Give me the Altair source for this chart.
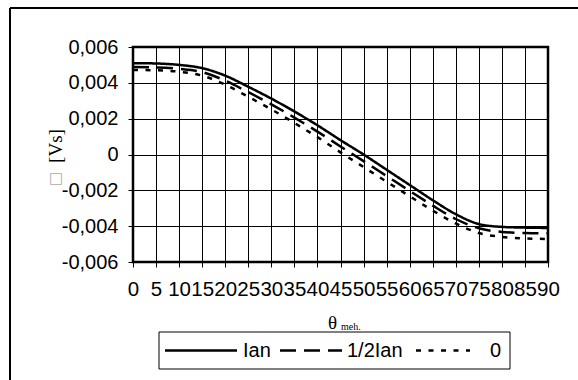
import altair as alt
import pandas as pd

theta = [0, 5, 10, 15, 20, 25, 30, 35, 40, 45, 50, 55, 60, 65, 70, 75, 80, 85, 90]
ian = [0.00510, 0.00508, 0.00500, 0.00482, 0.00440, 0.00378, 0.00312, 0.00240, 0.00163, 0.00080,
       0.00000, -0.00085, -0.00170, -0.00255, -0.00333, -0.00388, -0.00404, -0.00408, -0.00410]
half_ian = [0.00488, 0.00486, 0.00478, 0.00460, 0.00412, 0.00348, 0.00280, 0.00206, 0.00128, 0.00045,
            -0.00037, -0.00120, -0.00203, -0.00285, -0.00360, -0.00412, -0.00432, -0.00438, -0.00440]
zero = [0.00472, 0.00470, 0.00462, 0.00440, 0.00390, 0.00322, 0.00252, 0.00176, 0.00097, 0.00012,
        -0.00070, -0.00152, -0.00233, -0.00313, -0.00385, -0.00438, -0.00460, -0.00468, -0.00472]
series_names = ["Ian", "1/2Ian", "0"]
y_ticks = [-0.006, -0.004, -0.002, 0, 0.002, 0.004, 0.006]

rows = []
for name, vals in zip(series_names, [ian, half_ian, zero]):
    for t, v in zip(theta, vals):
        rows.append({"theta": t, "flux": v, "series": name})
df = pd.DataFrame(rows)

FONT = "Liberation Sans"
SERIF = "Liberation Serif"
W, H = 415, 215
DASHES = [[1, 0], [16, 8], [5, 7.5]]

lines = alt.Chart(df).mark_line(interpolate="monotone", strokeWidth=2.5, color="black").encode(
    x=alt.X("theta:Q",
            scale=alt.Scale(domain=[0, 90], nice=False, zero=False),
            axis=alt.Axis(values=theta, title=None, grid=True, gridColor="black", gridWidth=1,
                          gridOpacity=1, labelOverlap=False, labelFlush=False, tickSize=5,
                          tickColor="black", domain=False, labelFont=FONT, labelFontSize=20.5,
                          labelColor="black", labelPadding=12)),
    y=alt.Y("flux:Q",
            scale=alt.Scale(domain=[-0.006, 0.006], nice=False),
            axis=alt.Axis(values=y_ticks, title=None, grid=True, gridColor="black", gridWidth=1,
                          gridOpacity=1, tickSize=5, tickColor="black", domain=False,
                          labelFont=FONT, labelFontSize=20, labelColor="black", labelPadding=10,
                          labelExpr="datum.value == 0 ? '0' : (datum.value < 0 ? '-' : '') + replace(format(abs(datum.value), '.3f'), '.', ',')")),
    strokeDash=alt.StrokeDash("series:N",
                              scale=alt.Scale(domain=series_names, range=DASHES),
                              legend=None),
)

one = pd.DataFrame({"a": [0]})

# decorative outer frame
frame_top = alt.Chart(one).mark_rule(color="black", strokeWidth=2).encode(
    x=alt.value(-123), x2=alt.value(445), y=alt.value(-39))
frame_left = alt.Chart(one).mark_rule(color="black", strokeWidth=2).encode(
    x=alt.value(-123), y=alt.value(-39), y2=alt.value(333))

ytitle = alt.Chart(pd.DataFrame({"t": ["[Vs]"]})).mark_text(
    angle=270, font=SERIF, fontSize=19, color="black").encode(
    text="t:N", x=alt.value(-77), y=alt.value(99))
ybox = alt.Chart(pd.DataFrame({"t": ["\u25a1"]})).mark_text(
    font="DejaVu Sans", fontSize=15, color="#aaaaaa").encode(
    text="t:N", x=alt.value(-77), y=alt.value(131))
xtheta = alt.Chart(pd.DataFrame({"t": ["\u03b8"]})).mark_text(
    font=SERIF, fontSize=19, color="black", align="right").encode(
    text="t:N", x=alt.value(204), y=alt.value(276))
xmeh = alt.Chart(pd.DataFrame({"t": ["meh."]})).mark_text(
    font=SERIF, fontSize=10, color="black", align="left").encode(
    text="t:N", x=alt.value(208), y=alt.value(280))

# legend (drawn manually so the box keeps the reference's proportions)
leg_box = alt.Chart(one).mark_rect(fill="white", stroke="black", strokeWidth=1).encode(
    x=alt.value(26), x2=alt.value(377), y=alt.value(285), y2=alt.value(322))
leg_items = []
sym_x = [(32, 104), (147, 209), (283, 337)]
lab_x = [110, 214, 357]
for name, dash, (x1, x2), lx in zip(series_names, DASHES, sym_x, lab_x):
    leg_items.append(alt.Chart(one).mark_rule(color="black", strokeWidth=2.5, strokeDash=dash).encode(
        x=alt.value(x1), x2=alt.value(x2), y=alt.value(303.5)))
    leg_items.append(alt.Chart(pd.DataFrame({"t": [name]})).mark_text(
        font=FONT, fontSize=20, color="black", align="left", baseline="middle").encode(
        text="t:N", x=alt.value(lx), y=alt.value(303.5)))

chart = alt.layer(lines, frame_top, frame_left, ytitle, ybox, xtheta, xmeh, leg_box, *leg_items).properties(
    width=W, height=H,
    autosize=alt.AutoSizeParams(type="none"),
    padding={"left": 133, "top": 47, "right": 30, "bottom": 118},
    background="white",
).configure_view(stroke="black", strokeWidth=2.5)

chart.save("out.html", embed_options={"renderer": "svg", "actions": False})
